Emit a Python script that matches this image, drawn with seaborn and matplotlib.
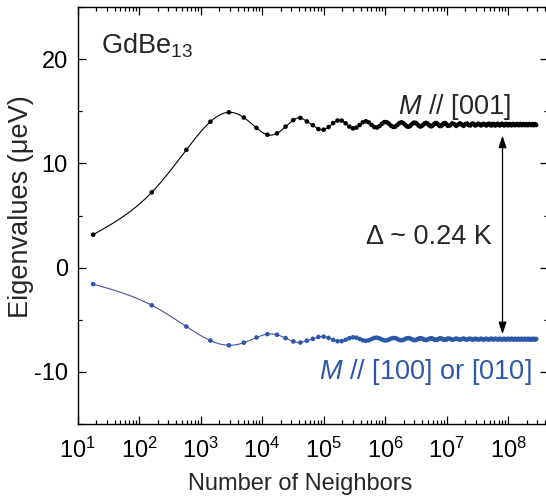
import numpy as np
import pandas as pd
import matplotlib
matplotlib.use("Agg")
import matplotlib.pyplot as plt
import matplotlib.ticker as mticker
import seaborn as sns

# Number of Gd neighbours included in the dipolar sum (one entry per shell radius)
neighbors = [
    18, 161, 588, 1446, 2888, 5062, 8119, 12211, 17488, 24100,
    32198, 41933, 53455, 66914, 82462, 100250, 120426, 143143, 168551, 196800,
    228041, 262425, 300102, 341222, 385938, 434398, 486753, 543155, 603754, 668700,
    738144, 812237, 891129, 974970, 1063912, 1158106, 1257700, 1362847, 1473697, 1590400,
    1713107, 1841969, 1977136, 2118758,
    2267000, 2422000, 2584000, 2753000, 2929000, 3112000, 3304000, 3502000, 3709000, 3923000,
    4146000, 4377000, 4616000, 4864000, 5120000, 5386000, 5660000, 5944000, 6236000, 6539000,
    6851000, 7173000, 7504000, 7846000, 8198000, 8560000, 8933000, 9317000, 9711000, 10116000,
    10533000, 11400000, 12313000, 13274000, 14283000, 15342000, 16453000, 17616000, 18832000, 20103000,
    21430000, 22814000, 24256000, 25759000, 27321000, 28946000, 30634000, 32386000, 34204000, 36089000,
    38042000, 40064000, 42156000, 44320000, 46556000, 48867000, 51253000, 53715000, 56255000, 58874000,
    61573000, 64353000, 67216000, 70162000, 73193000, 76310000, 79515000, 82808000, 86190000, 89663000,
    93229000, 96888000, 100641000, 104490000, 108436000, 112480000, 116623000, 120867000, 125213000, 129661000,
    134214000, 138872000, 143637000, 148509000, 153490000, 158582000, 163784000, 169100000, 174529000, 180073000,
    185733000, 191511000, 197407000, 203423000, 209560000, 215819000, 222202000, 228709000, 235342000, 242103000,
    248991000, 256009000, 263157000, 270438000, 277851000, 285398000,
]

# Eigenvalue for the moment along [001] (µeV)
eig_001 = [
    3.16, 7.22, 11.3, 14.0, 14.9, 14.4, 13.4, 12.75, 12.88, 13.52,
    14.15, 14.36, 14.02, 13.66, 13.29, 13.23, 13.48, 13.86, 14.11, 14.10,
    13.84, 13.53, 13.36, 13.43, 13.68, 13.94, 14.04, 13.93, 13.69, 13.48,
    13.44, 13.58, 13.80, 13.96, 13.95, 13.80, 13.60, 13.49, 13.53, 13.70,
    13.87, 13.94, 13.86, 13.70, 13.55, 13.52, 13.62, 13.78, 13.90, 13.89,
    13.78, 13.63, 13.54, 13.58, 13.70, 13.83, 13.89, 13.83, 13.70, 13.59,
    13.56, 13.64, 13.77, 13.86, 13.86, 13.77, 13.65, 13.58, 13.60, 13.71,
    13.81, 13.86, 13.81, 13.71,
    13.6, 13.64, 13.84, 13.76, 13.6, 13.72, 13.84, 13.72, 13.6, 13.76,
    13.82, 13.68, 13.64, 13.8, 13.8, 13.64, 13.68, 13.8, 13.76, 13.64,
    13.72, 13.8, 13.72, 13.64, 13.76, 13.8, 13.68, 13.64, 13.78, 13.76,
    13.64, 13.68, 13.8, 13.74, 13.64, 13.72, 13.8, 13.72, 13.64, 13.74,
    13.8, 13.68, 13.66, 13.76, 13.76, 13.66, 13.68, 13.78, 13.74, 13.66,
    13.72, 13.78, 13.72, 13.66, 13.74, 13.78, 13.68, 13.68, 13.76, 13.76,
    13.68, 13.68, 13.76, 13.74, 13.66, 13.72, 13.78, 13.72, 13.68, 13.74,
    13.76, 13.68, 13.68, 13.76, 13.76, 13.68,
]

# Doubly degenerate eigenvalue for the moment along [100] or [010] (µeV)
eig_100 = [
    -1.58, -3.61, -5.65, -7.0, -7.45, -7.2, -6.7, -6.38, -6.44, -6.76,
    -7.08, -7.18, -7.01, -6.83, -6.65, -6.62, -6.74, -6.93, -7.06, -7.05,
    -6.92, -6.77, -6.68, -6.72, -6.84, -6.97, -7.02, -6.97, -6.85, -6.74,
    -6.72, -6.79, -6.90, -6.98, -6.98, -6.90, -6.80, -6.75, -6.77, -6.85,
    -6.94, -6.97, -6.93, -6.85, -6.78, -6.76, -6.81, -6.89, -6.95, -6.95,
    -6.89, -6.82, -6.77, -6.79, -6.85, -6.92, -6.95, -6.92, -6.85, -6.80,
    -6.78, -6.82, -6.89, -6.93, -6.93, -6.89, -6.83, -6.79, -6.80, -6.86,
    -6.91, -6.93, -6.91, -6.86,
    -6.8, -6.82, -6.92, -6.88, -6.8, -6.86, -6.92, -6.86, -6.8, -6.88,
    -6.91, -6.84, -6.82, -6.9, -6.9, -6.82, -6.84, -6.9, -6.88, -6.82,
    -6.86, -6.9, -6.86, -6.82, -6.88, -6.9, -6.84, -6.82, -6.89, -6.88,
    -6.82, -6.84, -6.9, -6.87, -6.82, -6.86, -6.9, -6.86, -6.82, -6.87,
    -6.9, -6.84, -6.83, -6.88, -6.88, -6.83, -6.84, -6.89, -6.87, -6.83,
    -6.86, -6.89, -6.86, -6.83, -6.87, -6.89, -6.84, -6.84, -6.88, -6.88,
    -6.84, -6.84, -6.88, -6.87, -6.83, -6.86, -6.89, -6.86, -6.84, -6.87,
    -6.88, -6.84, -6.84, -6.88, -6.88, -6.84,
]

decade_ticks = [1e1, 1e2, 1e3, 1e4, 1e5, 1e6, 1e7, 1e8]
blue_line = "#4A4F9E"
blue_dot = "#2D57A8"

sns.set_theme(style="ticks")
plt.rcParams["font.family"] = ["Liberation Sans", "DejaVu Sans"]
plt.rcParams["mathtext.fontset"] = "custom"
plt.rcParams["mathtext.rm"] = "Liberation Sans"
plt.rcParams["mathtext.it"] = "Liberation Sans:italic"
plt.rcParams["axes.unicode_minus"] = False

fig = plt.figure(figsize=(5.46, 4.98), dpi=100)
ax = fig.add_axes([77.5 / 546, 1 - 424 / 498, 470 / 546, 417 / 498])


def natural_spline(x, y, xs):
    """Natural cubic spline through (x, y), evaluated at xs."""
    n = len(x)
    h = np.diff(x)
    A = np.zeros((n, n))
    r = np.zeros(n)
    A[0, 0] = A[-1, -1] = 1
    for i in range(1, n - 1):
        A[i, i - 1] = h[i - 1]
        A[i, i] = 2 * (h[i - 1] + h[i])
        A[i, i + 1] = h[i]
        r[i] = 6 * ((y[i + 1] - y[i]) / h[i] - (y[i] - y[i - 1]) / h[i - 1])
    M = np.linalg.solve(A, r)
    j = np.clip(np.searchsorted(x, xs) - 1, 0, n - 2)
    t0 = x[j + 1] - xs
    t1 = xs - x[j]
    hj = h[j]
    return ((M[j] * t0**3 + M[j + 1] * t1**3) / (6 * hj)
            + (y[j] / hj - M[j] * hj / 6) * t0 + (y[j + 1] / hj - M[j + 1] * hj / 6) * t1)


n_arr = np.array(neighbors, dtype=float)
lx = np.log10(n_arr)
xs = np.linspace(lx[0], lx[-1], 6000)

# Smooth connecting curves (spline in log N), then the computed points on top
ax.plot(10**xs, natural_spline(lx, np.array(eig_001), xs), color="black", lw=0.8)
ax.plot(10**xs, natural_spline(lx, np.array(eig_100), xs), color=blue_line, lw=0.8)

df = pd.DataFrame({
    "neighbors": np.concatenate([n_arr, n_arr]),
    "eigenvalue": eig_001 + eig_100,
    "direction": ["[001]"] * len(neighbors) + ["[100]"] * len(neighbors),
})
sns.scatterplot(data=df, x="neighbors", y="eigenvalue", hue="direction",
                palette={"[001]": "black", "[100]": blue_dot},
                s=11, linewidth=0, legend=False, ax=ax, zorder=3)

ax.set_xscale("log")
ax.set_xlim(10, 10**8.64)
ax.set_ylim(-15, 25)
ax.set_xticks(decade_ticks)
ax.set_yticks([-10, 0, 10, 20])
ax.yaxis.set_minor_locator(mticker.MultipleLocator(5))
ax.xaxis.set_minor_locator(mticker.LogLocator(base=10, subs=np.arange(2, 10), numticks=20))
ax.xaxis.set_minor_formatter(mticker.NullFormatter())
ax.tick_params(which="both", direction="in", top=True, right=True, width=0.9, colors="black")
ax.tick_params(which="major", length=6, labelsize=17)
ax.tick_params(axis="x", which="major", pad=10)
ax.tick_params(axis="y", which="major", pad=7)
ax.tick_params(which="minor", length=3)
for s in ax.spines.values():
    s.set_linewidth(1.0)
    s.set_color("black")

ax.set_xlabel("Number of Neighbors", fontsize=17)
ax.set_ylabel("Eigenvalues (μeV)", fontsize=19.5)
ax.xaxis.set_label_coords((300 - 77.5) / 470, (424 - 473) / 417)
ax.yaxis.set_label_coords((34 - 77.5) / 470, (424 - 207) / 417)

ax.text(101 / 546, 1 - 54 / 498, r"GdBe$_{\mathregular{13}}$", transform=fig.transFigure,
        fontsize=19.5, va="baseline")
ax.text(511 / 546, 1 - 113.5 / 498, r"$\it{M}$ // [001]", transform=fig.transFigure,
        fontsize=19.5, ha="right", va="baseline")
ax.text(492 / 546, 1 - 244 / 498, "Δ ~ 0.24 K", transform=fig.transFigure,
        fontsize=19.5, ha="right", va="baseline")
ax.text(532 / 546, 1 - 379 / 498, r"$\it{M}$ // [100] or [010]", transform=fig.transFigure,
        fontsize=19.5, ha="right", va="baseline", color=blue_dot)

# Double-headed arrow marking the splitting between the two eigenvalues
ax.annotate("", xy=(8.1e7, 12.66), xytext=(8.1e7, -6.38),
            arrowprops=dict(arrowstyle="<|-|>,head_length=0.6,head_width=0.2", color="black",
                            lw=0.9, mutation_scale=12, shrinkA=0, shrinkB=0))

fig.savefig("out.png", dpi=100)
